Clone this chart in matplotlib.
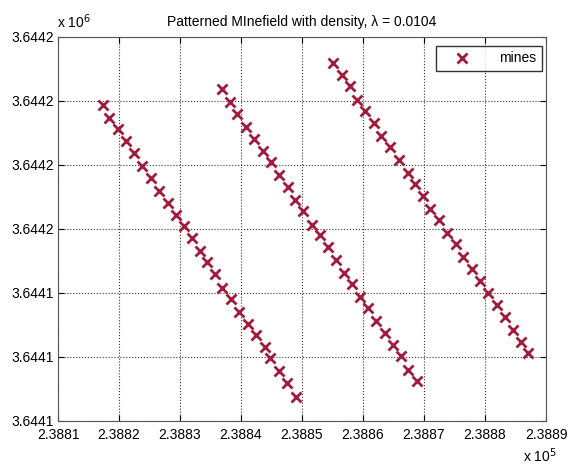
import numpy as np
import matplotlib
matplotlib.use("Agg")
import matplotlib.pyplot as plt

plt.rcParams['font.family'] = ['Liberation Sans', 'DejaVu Sans']

# mine positions (easting, northing in metres), three patterned rows
row1_e = [238817.3, 238818.4, 238819.9, 238821.2, 238822.5, 238823.8, 238825.2, 238826.5,
          238828.0, 238829.3, 238830.6, 238831.9, 238833.2, 238834.5, 238835.7, 238836.9,
          238838.4, 238839.7, 238841.1, 238842.4, 238843.9, 238844.8, 238846.3, 238847.6, 238849.0]
row1_n = [3644164.7, 3644163.7, 3644162.8, 3644161.9, 3644160.9, 3644159.9, 3644159.0, 3644158.0,
          3644157.0, 3644156.1, 3644155.2, 3644154.3, 3644153.3, 3644152.4, 3644151.5, 3644150.4,
          3644149.5, 3644148.5, 3644147.6, 3644146.7, 3644145.8, 3644144.9, 3644143.9, 3644143.0, 3644141.9]

row2_e = [238836.9, 238838.2, 238839.4, 238840.8, 238842.2, 238843.6, 238844.9, 238846.3,
          238847.7, 238848.8, 238850.1, 238851.7, 238852.9, 238854.3, 238855.6, 238856.9,
          238858.2, 238859.5, 238860.9, 238862.2, 238863.6, 238864.9, 238866.3, 238867.4, 238868.8]
row2_n = [3644165.9, 3644164.9, 3644164.0, 3644163.0, 3644162.0, 3644161.1, 3644160.2, 3644159.2,
          3644158.3, 3644157.3, 3644156.4, 3644155.3, 3644154.5, 3644153.6, 3644152.6, 3644151.6,
          3644150.7, 3644149.7, 3644148.8, 3644147.8, 3644146.9, 3644145.9, 3644145.1, 3644144.0, 3644143.1]

row3_e = [238855.1, 238856.5, 238857.8, 238859.0, 238860.4, 238861.8, 238863.0, 238864.4,
          238865.9, 238867.3, 238868.6, 238869.9, 238871.0, 238872.4, 238873.7, 238875.2,
          238876.4, 238877.8, 238879.2, 238880.5, 238881.9, 238883.3, 238884.6, 238885.9, 238887.1]
row3_n = [3644168.0, 3644167.0, 3644166.2, 3644165.1, 3644164.2, 3644163.3, 3644162.3, 3644161.4,
          3644160.4, 3644159.4, 3644158.5, 3644157.6, 3644156.6, 3644155.7, 3644154.7, 3644153.8,
          3644152.8, 3644151.9, 3644150.9, 3644150.0, 3644149.1, 3644148.1, 3644147.1, 3644146.2, 3644145.3]

x_ticks = [238810, 238820, 238830, 238840, 238850, 238860, 238870, 238880, 238890]
x_labels = ["2.3881", "2.3882", "2.3883", "2.3884", "2.3885", "2.3886", "2.3887", "2.3888", "2.3889"]
y_ticks = [3644140, 3644145, 3644150, 3644155, 3644160, 3644165, 3644170]
y_labels = ["3.6441", "3.6441", "3.6441", "3.6442", "3.6442", "3.6442", "3.6442"]

east = np.concatenate([row1_e, row2_e, row3_e])
north = np.concatenate([row1_n, row2_n, row3_n])

fig = plt.figure(figsize=(5.69, 4.67), dpi=100)
ax = fig.add_axes([58 / 569, 1 - 421 / 467, 488 / 569, 384 / 467])

ax.plot(east, north, 'x', color='#a01c3a', markersize=7, markeredgewidth=2, label='mines')

ax.set_xlim(238810, 238890)
ax.set_ylim(3644140, 3644170)
ax.set_xticks(x_ticks)
ax.set_xticklabels(x_labels)
ax.set_yticks(y_ticks)
ax.set_yticklabels(y_labels)
ax.tick_params(direction='in', top=True, right=True, labelsize=10, length=4, pad=3)
ax.tick_params(axis='x', pad=5)
ax.grid(True, linestyle=':', color='#333333', linewidth=0.8)
for s in ax.spines.values():
    s.set_color('#555555')

ax.set_title("Patterned MInefield with density, λ = 0.0104", fontsize=10, pad=8)

fig.text(57 / 569, 1 - 28 / 467, r"x 10$^{6}$", fontsize=10)
fig.text(523 / 569, 1 - 462 / 467, r"x 10$^{5}$", fontsize=10)

leg = ax.legend(loc='upper right', bbox_to_anchor=(0.992, 0.977), borderaxespad=0,
                fancybox=False, edgecolor='black', fontsize=10, handlelength=3,
                handletextpad=1.2, borderpad=0.4)
leg.get_frame().set_linewidth(1.0)

fig.savefig("out.png", dpi=100)
